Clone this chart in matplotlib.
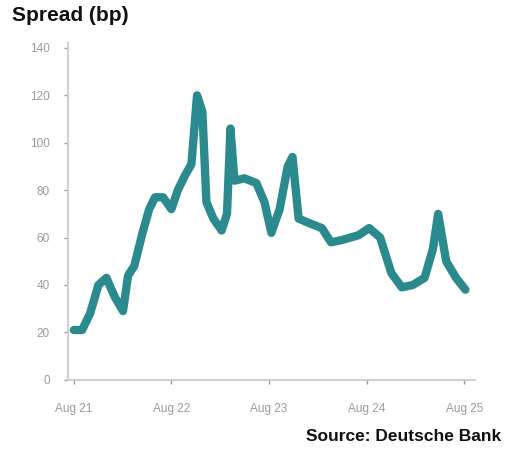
import matplotlib.pyplot as plt
import matplotlib.dates as mdates
import pandas as pd

# spread history (bp)
dates = [
    "2021-08-01", "2021-09-01", "2021-10-01", "2021-11-01", "2021-12-01",
    "2022-01-01", "2022-02-01", "2022-02-20", "2022-03-15", "2022-04-15",
    "2022-05-10", "2022-06-01", "2022-07-01", "2022-08-01", "2022-08-25",
    "2022-09-20", "2022-10-15", "2022-11-05", "2022-11-25", "2022-12-10",
    "2023-01-05", "2023-02-05", "2023-02-25", "2023-03-10", "2023-03-25",
    "2023-05-01", "2023-06-15", "2023-07-15", "2023-08-10", "2023-09-10",
    "2023-10-10", "2023-10-28", "2023-11-20", "2024-01-01", "2024-02-15",
    "2024-03-20", "2024-05-01", "2024-07-01", "2024-08-10", "2024-09-20",
    "2024-11-01", "2024-12-10", "2025-01-20", "2025-03-05", "2025-04-05",
    "2025-04-25", "2025-05-25", "2025-07-01", "2025-08-05",
]
spread = [
    21, 21, 28, 40, 43,
    35, 29, 44, 48, 62,
    72, 77, 77, 72, 80,
    86, 91, 120, 113, 75,
    68, 63, 70, 106, 84,
    85, 83, 75, 62, 72,
    90, 94, 68, 66, 64,
    58, 59, 61, 64, 60,
    45, 39, 40, 43, 55,
    70, 50, 43, 38,
]
tick_dates = ["2021-08-01", "2022-08-01", "2023-08-01", "2024-08-01", "2025-08-01"]
tick_labels = ["Aug 21", "Aug 22", "Aug 23", "Aug 24", "Aug 25"]
y_ticks = [0, 20, 40, 60, 80, 100, 120, 140]

plt.rcParams['font.family'] = ['Liberation Sans', 'DejaVu Sans']

fig = plt.figure(figsize=(5.07, 4.5), dpi=100)
ax = fig.add_axes([0.134, 0.156, 0.803, 0.748])

x = pd.to_datetime(dates)
ax.plot(x, spread, color='#2a8a8e', linewidth=6, solid_joinstyle='round',
        solid_capstyle='round')

ax.set_ylim(0, 142)
ax.set_yticks(y_ticks)
ax.set_xlim(pd.Timestamp("2021-07-10"), pd.Timestamp("2025-09-10"))
ax.set_xticks(pd.to_datetime(tick_dates))
ax.set_xticklabels(tick_labels)

for s in ['top', 'right']:
    ax.spines[s].set_visible(False)
for s in ['left', 'bottom']:
    ax.spines[s].set_color('#d0d0d0')
    ax.spines[s].set_linewidth(1.5)
ax.tick_params(colors='#9a9a9a', labelsize=8.5, length=3, width=1)
ax.tick_params(axis='x', pad=14)
ax.tick_params(axis='y', pad=10)

fig.text(0.024, 0.966, "Spread (bp)", fontsize=15, fontweight='bold',
         ha='left', va='center', color='#111111')
fig.text(0.988, 0.029, "Source: Deutsche Bank", fontsize=12.5, fontweight='bold',
         ha='right', va='center', color='#111111')

fig.savefig("out.png", dpi=100)
